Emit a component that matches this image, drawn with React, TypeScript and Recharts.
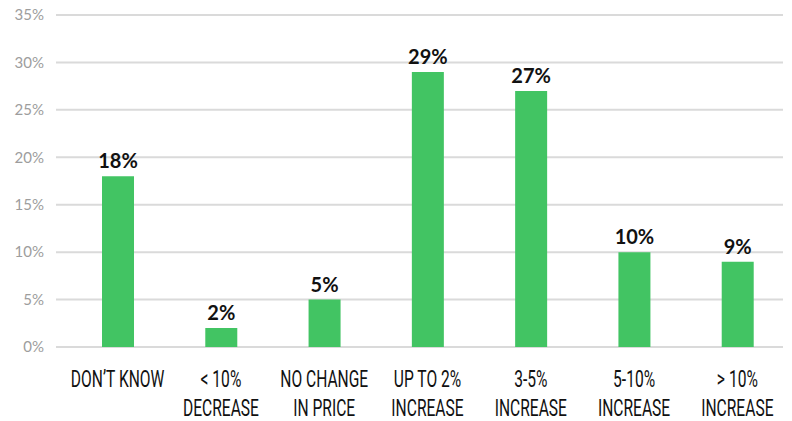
import { BarChart, Bar, XAxis, YAxis, CartesianGrid, LabelList } from 'recharts';

// survey answers, two-line labels split on \n
const categories = [
  'DON\u2019T KNOW',
  '< 10%\nDECREASE',
  'NO CHANGE\nIN PRICE',
  'UP TO 2%\nINCREASE',
  '3-5%\nINCREASE',
  '5-10%\nINCREASE',
  '> 10%\nINCREASE',
];
const shares = [18, 2, 5, 29, 27, 10, 9];
const yTicks = [0, 5, 10, 15, 20, 25, 30, 35];

const data = categories.map((label, i) => ({ label, value: shares[i] }));

function CategoryTick({ x, y, payload }: any) {
  const lines = String(payload.value).split('\n');
  return (
    <g transform={`translate(${x},${y})`}>
      {lines.map((line, i) => (
        <text
          key={i}
          x={0}
          y={0}
          transform={`translate(0,${32 + i * 28.5}) scale(0.65,1)`}
          textAnchor="middle"
          fill="#111"
          fontFamily="Roboto, sans-serif"
          fontSize={24}
        >
          {line}
        </text>
      ))}
    </g>
  );
}

export default function App() {
  return (
    <div style={{ position: 'absolute', left: 0, top: 0, background: '#fff' }}>
      <BarChart
        width={792}
        height={421}
        data={data}
        margin={{ top: 15, right: 9, bottom: 0, left: 0 }}
        barSize={32}
      >
        <CartesianGrid vertical={false} stroke="#dadada" strokeWidth={2} />
        <XAxis
          dataKey="label"
          axisLine={false}
          tickLine={false}
          interval={0}
          height={74}
          padding={{ left: 10, right: -6 }}
          tick={<CategoryTick />}
        />
        <YAxis
          domain={[0, 35]}
          ticks={yTicks}
          width={56}
          axisLine={false}
          tickLine={false}
          tickMargin={6}
          tickFormatter={(v) => `${v}%`}
          tick={{ fill: '#9d9d9d', fontSize: 15, fontFamily: 'Lato, sans-serif' }}
        />
        <Bar dataKey="value" fill="#42c463" isAnimationActive={false}>
          <LabelList
            dataKey="value"
            position="top"
            offset={8}
            formatter={(v: any) => `${v}%`}
            fill="#111"
            fontSize={20}
            fontWeight="bold"
            fontFamily="Lato, sans-serif"
          />
        </Bar>
      </BarChart>
    </div>
  );
}
